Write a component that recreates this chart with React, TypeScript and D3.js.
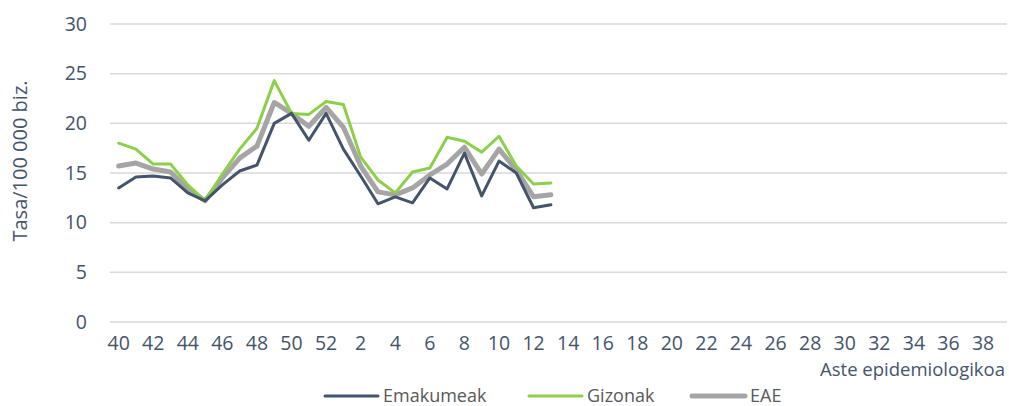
import React from "react";
import * as d3 from "d3";

const weeks: string[] = [
  "40","41","42","43","44","45","46","47","48","49","50","51","52",
  "1","2","3","4","5","6","7","8","9","10","11","12","13","14","15","16","17","18","19","20",
  "21","22","23","24","25","26","27","28","29","30","31","32","33","34","35","36","37","38","39",
];

const emakumeak: number[] = [13.5, 14.6, 14.7, 14.5, 13.0, 12.2, 13.8, 15.2, 15.8, 20.0, 21.0, 18.3, 21.0, 17.4, 14.7, 11.9, 12.6, 12.0, 14.5, 13.4, 17.0, 12.7, 16.2, 15.0, 11.5, 11.8];
const gizonak: number[] = [18.0, 17.4, 15.9, 15.9, 13.8, 12.2, 14.9, 17.4, 19.5, 24.3, 21.0, 20.9, 22.2, 21.9, 16.6, 14.3, 13.0, 15.1, 15.5, 18.6, 18.2, 17.1, 18.7, 15.7, 13.9, 14.0];
const eae: number[] = [15.7, 16.0, 15.4, 15.1, 13.4, 12.2, 14.5, 16.5, 17.7, 22.1, 21.0, 19.7, 21.6, 19.6, 15.7, 13.1, 12.8, 13.5, 14.8, 15.9, 17.6, 14.9, 17.4, 15.3, 12.6, 12.8];

const yTicks: number[] = [0, 5, 10, 15, 20, 25, 30];

const seriesNames = ["Emakumeak", "Gizonak", "EAE"];
const seriesColors = ["#44546A", "#8DCF4B", "#A5A5A5"];
const seriesWidths = [3, 3, 5];

export default function App() {
  const W = 1009, H = 406;
  const x = d3.scaleBand<string>().domain(weeks).range([110, 1009]);
  const y = d3.scaleLinear().domain([0, 30]).range([322, 24]);
  const cx = (w: string) => (x(w) as number) + x.bandwidth() / 2;
  const seriesData = [emakumeak, gizonak, eae];
  const line = (vals: number[]) =>
    d3.line<number>().x((_, i) => cx(weeks[i])).y((v) => y(v))(vals) || "";
  const font = "'Open Sans', sans-serif";
  const legendX = [325, 529, 692];
  return (
    <svg width={W} height={H} style={{ position: "absolute", left: 0, top: 0, background: "#fff" }} fontFamily={font}>
      {yTicks.map((t) => (
        <g key={t}>
          <line x1={110} x2={1007} y1={y(t)} y2={y(t)} stroke="#D9D9D9" strokeWidth={1.5} />
          <text x={87} y={y(t)} dy="0.35em" textAnchor="end" fontSize={19.5} fill="#44546A">{t}</text>
        </g>
      ))}
      {weeks.map((w, i) => i % 2 === 0 ? (
        <text key={w} x={cx(w)} y={350} textAnchor="middle" fontSize={19.5} fill="#44546A">{w}</text>
      ) : null)}
      <text x={1005} y={376} textAnchor="end" fontSize={18.5} fill="#44546A">Aste epidemiologikoa</text>
      <text transform="translate(27,161) rotate(-90)" textAnchor="middle" fontSize={20} fill="#44546A">Tasa/100 000 biz.</text>
      {[2, 1, 0].map((k) => (
        <path key={k} d={line(seriesData[k])} fill="none" stroke={seriesColors[k]} strokeWidth={seriesWidths[k]} strokeLinejoin="round" strokeLinecap="round" />
      ))}
      {seriesNames.map((n, k) => (
        <g key={n}>
          <line x1={legendX[k]} x2={legendX[k] + 53} y1={396} y2={396} stroke={seriesColors[k]} strokeWidth={seriesWidths[k]} strokeLinecap="round" />
          <text x={legendX[k] + 58} y={396} dy="0.35em" fontSize={18} fill="#595959">{n}</text>
        </g>
      ))}
    </svg>
  );
}
